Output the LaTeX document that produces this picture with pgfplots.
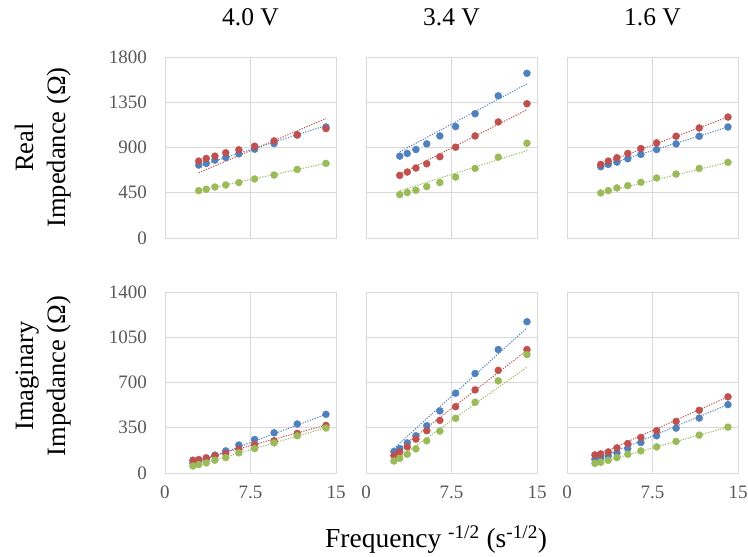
\documentclass[border=0pt]{standalone}
\usepackage{fontspec}
\setmainfont{Liberation Serif}
\usepackage{pgfplots}
\usepackage{pgfplotstable}
\pgfplotsset{compat=1.18}
\usepgfplotslibrary{groupplots}

\definecolor{sblue}{HTML}{4F81BD}
\definecolor{sred}{HTML}{C0504D}
\definecolor{sgreen}{HTML}{9BBB59}
\definecolor{gridc}{HTML}{D9D9D9}
\definecolor{tickc}{HTML}{595959}

% real impedance, 4.0 V / 3.4 V / 1.6 V
\pgfplotstableread{
x     b    r    g
2.96  725  765  471
3.62  742  791  485
4.38  775  814  507
5.33  801  847  527
6.48  837  877  551
7.86  883  913  587
9.57  940  966  626
11.6  1025 1025 682
14.12 1104 1088 742
}\reA
\pgfplotstableread{
x     b    r    g
2.96  814  623  432
3.62  841  656  452
4.38  880  696  475
5.33  936  738  511
6.48  1015 808  551
7.86  1108 903  606
9.57  1236 1015 692
11.6  1414 1154 804
14.12 1638 1335 943
}\reB
\pgfplotstableread{
x     b    r    g
2.96  709  732  448
3.62  732  765  471
4.38  755  798  498
5.33  788  841  521
6.48  831  890  554
7.86  880  946  597
9.57  936  1012 636
11.6  1012 1094 692
14.12 1104 1203 752
}\reC
% imaginary impedance
\pgfplotstableread{
x     b    r    g
2.45  78   99   54
2.96  86   104  65
3.62  106  117  78
4.38  138  132  99
5.33  171  150  119
6.48  216  184  156
7.86  259  220  189
9.57  311  249  233
11.6  379  306  288
14.12 454  368  348
}\imA
\pgfplotstableread{
x     b    r    g
2.45  166  135  93
2.96  189  163  114
3.62  233  202  145
4.38  288  262  187
5.33  366  327  249
6.48  480  407  324
7.86  617  513  423
9.57  770  643  547
11.6  955  794  713
14.12 1170 955  916
}\imB
\pgfplotstableread{
x     b    r    g
2.45  106  140  75
2.96  114  148  83
3.62  132  163  98
4.38  156  194  119
5.33  189  228  145
6.48  236  275  171
7.86  288  327  202
9.57  347  399  244
11.6  425  485  293
14.12 529  589  355
}\imC

\pgfplotsset{
  dots/.style={only marks, mark=*, mark size=3.5bp, color=#1, mark options={fill=#1, draw=#1}},
  trend/.style={color=#1, line width=1bp, dash pattern=on 1.2bp off 1.4bp, no marks},
}

\begin{document}
\begin{tikzpicture}
\begin{groupplot}[
  group style={group size=3 by 2, horizontal sep=30bp, vertical sep=54bp,
    xticklabels at=edge bottom, yticklabels at=edge left},
  width=171bp, height=181bp, scale only axis,
  xmin=0, xmax=15, xtick={0,7.5,15},
  grid=major, grid style={gridc, line width=0.8bp},
  axis line style={gridc, line width=0.8bp},
  major tick length=0pt,
  /pgf/number format/assume math mode=true,
  /pgf/number format/1000 sep={},
  ticklabel style={font=\fontsize{19bp}{19bp}\selectfont, text=tickc, inner sep=0pt},
  xticklabel shift=13bp, yticklabel shift=18bp,
  title style={at={(0.5,1)}, anchor=base, yshift=26bp, font=\fontsize{25.5bp}{25.5bp}\selectfont},
  ylabel style={at={(axis description cs:-0.55,0.5)}, anchor=south, inner sep=0pt,
    align=center, font=\fontsize{26.5bp}{32bp}\selectfont},
  clip=false,
]
\nextgroupplot[title={4.0 V}, ymin=0, ymax=1800, ytick={0,450,900,1350,1800},
  ylabel={Real\\Impedance (Ω)}]
\addplot[trend=sblue] coordinates {(2.96,715) (14.12,1118)};
\addplot[trend=sred] coordinates {(2.96,650) (14.12,1187)};
\addplot[trend=sgreen] coordinates {(2.96,471) (14.12,742)};
\addplot[dots=sblue] table[x=x,y=b]{\reA};
\addplot[dots=sred] table[x=x,y=r]{\reA};
\addplot[dots=sgreen] table[x=x,y=g]{\reA};

\nextgroupplot[title={3.4 V}, ymin=0, ymax=1800, ytick={0,450,900,1350,1800}]
\addplot[trend=sblue] coordinates {(2.96,857) (14.12,1533)};
\addplot[trend=sred] coordinates {(2.96,633) (14.12,1276)};
\addplot[trend=sgreen] coordinates {(2.96,468) (14.12,870)};
\addplot[dots=sblue] table[x=x,y=b]{\reB};
\addplot[dots=sred] table[x=x,y=r]{\reB};
\addplot[dots=sgreen] table[x=x,y=g]{\reB};

\nextgroupplot[title={1.6 V}, ymin=0, ymax=1800, ytick={0,450,900,1350,1800}]
\addplot[trend=sblue] coordinates {(2.96,709) (14.12,1104)};
\addplot[trend=sred] coordinates {(2.96,732) (14.12,1203)};
\addplot[trend=sgreen] coordinates {(2.96,448) (14.12,752)};
\addplot[dots=sblue] table[x=x,y=b]{\reC};
\addplot[dots=sred] table[x=x,y=r]{\reC};
\addplot[dots=sgreen] table[x=x,y=g]{\reC};

\nextgroupplot[ymin=0, ymax=1400, ytick={0,350,700,1050,1400},
  ylabel={Imaginary\\Impedance (Ω)},
  ylabel style={at={(axis description cs:-0.55,0.535)}}]
\addplot[trend=sblue] coordinates {(2.45,68) (14.12,454)};
\addplot[trend=sred] coordinates {(2.45,92) (14.12,370)};
\addplot[trend=sgreen] coordinates {(2.45,50) (14.12,350)};
\addplot[dots=sblue] table[x=x,y=b]{\imA};
\addplot[dots=sred] table[x=x,y=r]{\imA};
\addplot[dots=sgreen] table[x=x,y=g]{\imA};

\nextgroupplot[ymin=0, ymax=1400, ytick={0,350,700,1050,1400},
  xlabel={Frequency \textsuperscript{-1/2} (s\textsuperscript{-1/2})},
  xlabel style={at={(axis description cs:0.41,-0.414)}, anchor=base,
    font=\fontsize{27.5bp}{27.5bp}\selectfont}]
\addplot[trend=sblue] coordinates {(2.45,190) (14.12,1123)};
\addplot[trend=sred] coordinates {(2.45,155) (14.12,949)};
\addplot[trend=sgreen] coordinates {(2.45,90) (14.12,819)};
\addplot[dots=sblue] table[x=x,y=b]{\imB};
\addplot[dots=sred] table[x=x,y=r]{\imB};
\addplot[dots=sgreen] table[x=x,y=g]{\imB};

\nextgroupplot[ymin=0, ymax=1400, ytick={0,350,700,1050,1400}]
\addplot[trend=sblue] coordinates {(2.45,100) (14.12,529)};
\addplot[trend=sred] coordinates {(2.45,130) (14.12,589)};
\addplot[trend=sgreen] coordinates {(2.45,70) (14.12,355)};
\addplot[dots=sblue] table[x=x,y=b]{\imC};
\addplot[dots=sred] table[x=x,y=r]{\imC};
\addplot[dots=sgreen] table[x=x,y=g]{\imC};
\end{groupplot}
\pgfresetboundingbox
\path[use as bounding box] (group c1r1.north west) ++(-165bp,57bp) rectangle ++(748bp,-557bp);
\end{tikzpicture}
\end{document}
